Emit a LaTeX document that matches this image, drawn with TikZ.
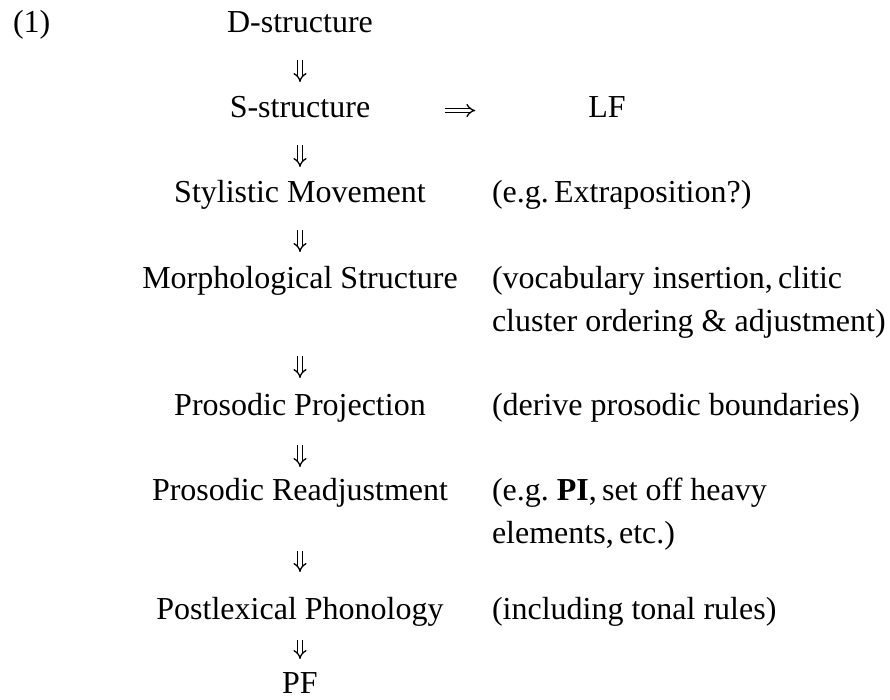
\documentclass[tikz,border=0pt]{standalone}
\usepackage{fontspec}
\setmainfont{Liberation Serif}
\usetikzlibrary{arrows.meta}
\frenchspacing
\begin{document}
\begin{tikzpicture}[x=1pt,y=-1pt,
  every node/.style={inner sep=0pt, outer sep=0pt, font=\fontsize{32}{43}\selectfont},
  stage/.style={anchor=base, text height=22pt, text depth=7pt},
  note/.style={anchor=base west, align=left},
  dbl/.style={double, double distance=3.2pt, line width=1.3pt, -{Implies[scale=1.6]}}]
\useasboundingbox (0,0) rectangle (890,700);
% numbering
\node[anchor=base west] (num) at (13,33) {(1)};
% main column
\node[stage] (d)    at (300,33)  {D-structure};
\node[stage] (s)    at (300,118) {S-structure};
\node[stage] (lf)   at (607,118) {LF};
\node[stage] (sty)  at (300,203) {Stylistic Movement};
\node[stage] (mor)  at (300,288) {Morphological Structure};
\node[stage] (pp)   at (300,415) {Prosodic Projection};
\node[stage] (pr)   at (300,500) {Prosodic Readjustment};
\node[stage] (pl)   at (300,619) {Postlexical Phonology};
\node[stage, text depth=0pt] (pf) at (300,693) {PF};
% notes (multi-line nodes are placed by the baseline of their last line)
\node[note] (n1) at (492,203) {(e.g.\,Extraposition?)};
\node[note] (n2) at (492,331) {(vocabulary insertion,\,clitic\\cluster ordering \& adjustment)};
\node[note] (n3) at (492,415) {(derive prosodic boundaries)};
\node[note] (n4) at (492,543) {(e.g. \textbf{PI},\,set off heavy\\elements,\,etc.)};
\node[note] (n5) at (492,619) {(including tonal rules)};
% arrows
\draw[dbl, shorten <=20pt, shorten >=14pt] (d) -- (s);
\draw[dbl, shorten <=75pt, shorten >=113pt] (s) -- (lf);
\draw[dbl, shorten <=20pt, shorten >=14pt] (s) -- (sty);
\draw[dbl, shorten <=20pt, shorten >=14pt] (sty) -- (mor);
\draw[dbl, shorten <=61pt, shorten >=15pt] (mor) -- (pp);
\draw[dbl, shorten <=23pt, shorten >=11pt] (pp) -- (pr);
\draw[dbl, shorten <=44pt, shorten >=25pt] (pr) -- (pl);
\draw[dbl, shorten <=14pt, shorten >=12pt] (pl) -- (pf);
\end{tikzpicture}
\end{document}
